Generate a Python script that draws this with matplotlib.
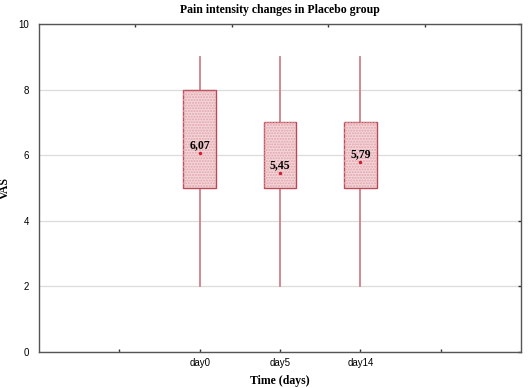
import matplotlib
matplotlib.use("Agg")
import matplotlib.pyplot as plt
from matplotlib.patches import Rectangle

categories = ["day0", "day5", "day14"]
means = [6.07, 5.45, 5.79]
q1 = [5, 5, 5]
q3 = [8, 7, 7]
whisk_lo = [2, 2, 2]
whisk_hi = [9, 9, 9]
mean_labels = ["6,07", "5,45", "5,79"]

positions = [2, 3, 4]
box_w = 0.41

fig = plt.figure(figsize=(5.29, 3.88), dpi=100)
ax = fig.add_axes([0.0737, 0.094, 0.9113, 0.844])

edge = "#b84a56"
whisk = "#cf7f8a"

for i, x in enumerate(positions):
    ax.plot([x, x], [whisk_lo[i], q1[i]], color=whisk, lw=1.3, zorder=2)
    ax.plot([x, x], [q3[i], whisk_hi[i]], color=whisk, lw=1.3, zorder=2)
    r = Rectangle((x - box_w / 2, q1[i]), box_w, q3[i] - q1[i],
                  facecolor="#f3d6d9", edgecolor=edge, lw=1.0, zorder=3)
    ax.add_patch(r)
    r2 = Rectangle((x - box_w / 2, q1[i]), box_w, q3[i] - q1[i],
                   facecolor="none", edgecolor="#e3a3ab", lw=0, hatch="......", zorder=3)
    ax.add_patch(r2)
    ax.plot([x], [means[i]], marker="o", ms=1.5, color="#cc2030", zorder=4)
    ax.annotate(mean_labels[i], (x, means[i]), xytext=(0, 1.5), textcoords="offset points",
                ha="center", va="bottom", fontsize=8.5, fontweight="bold",
                family="Liberation Serif", zorder=5)

ax.set_xlim(0, 6)
ax.set_ylim(0, 10)
ax.set_xticks([1, 2, 3, 4, 5])
ax.set_xticklabels(["", "day0", "day5", "day14", ""], fontsize=7, family="Liberation Sans")
ax.set_yticks([0, 2, 4, 6, 8, 10])
ax.set_yticklabels(["0", "2", "4", "6", "8", "10"], fontsize=7, family="Liberation Sans")
ax.tick_params(axis="x", direction="in", length=2, width=1, color="#333333", pad=5)
ax.tick_params(axis="y", left=False, right=True, direction="in", length=2, width=1,
               color="#333333", pad=7)
ax.yaxis.grid(True, color="#dcdcdc", lw=0.9)
ax.set_axisbelow(True)

for s in ax.spines.values():
    s.set_color("#555555")
    s.set_linewidth(1.0)

top = ax.secondary_xaxis("top")
top.set_xticks([1.2, 2.4, 3.6, 4.8])
top.set_xticklabels([])
top.tick_params(direction="in", length=2, width=1, color="#333333")
top.spines["top"].set_visible(False)

ax.set_xlabel("Time (days)", fontsize=8.5, fontweight="bold", family="Liberation Serif", labelpad=5)
ax.set_ylabel("VAS", fontsize=8.5, fontweight="bold", family="Liberation Serif")
ax.yaxis.set_label_coords(-0.058, 0.5)
ax.set_title("Pain intensity changes in Placebo group", fontsize=8.5, fontweight="bold",
             family="Liberation Serif", pad=8)

fig.savefig("out.png", dpi=100)
